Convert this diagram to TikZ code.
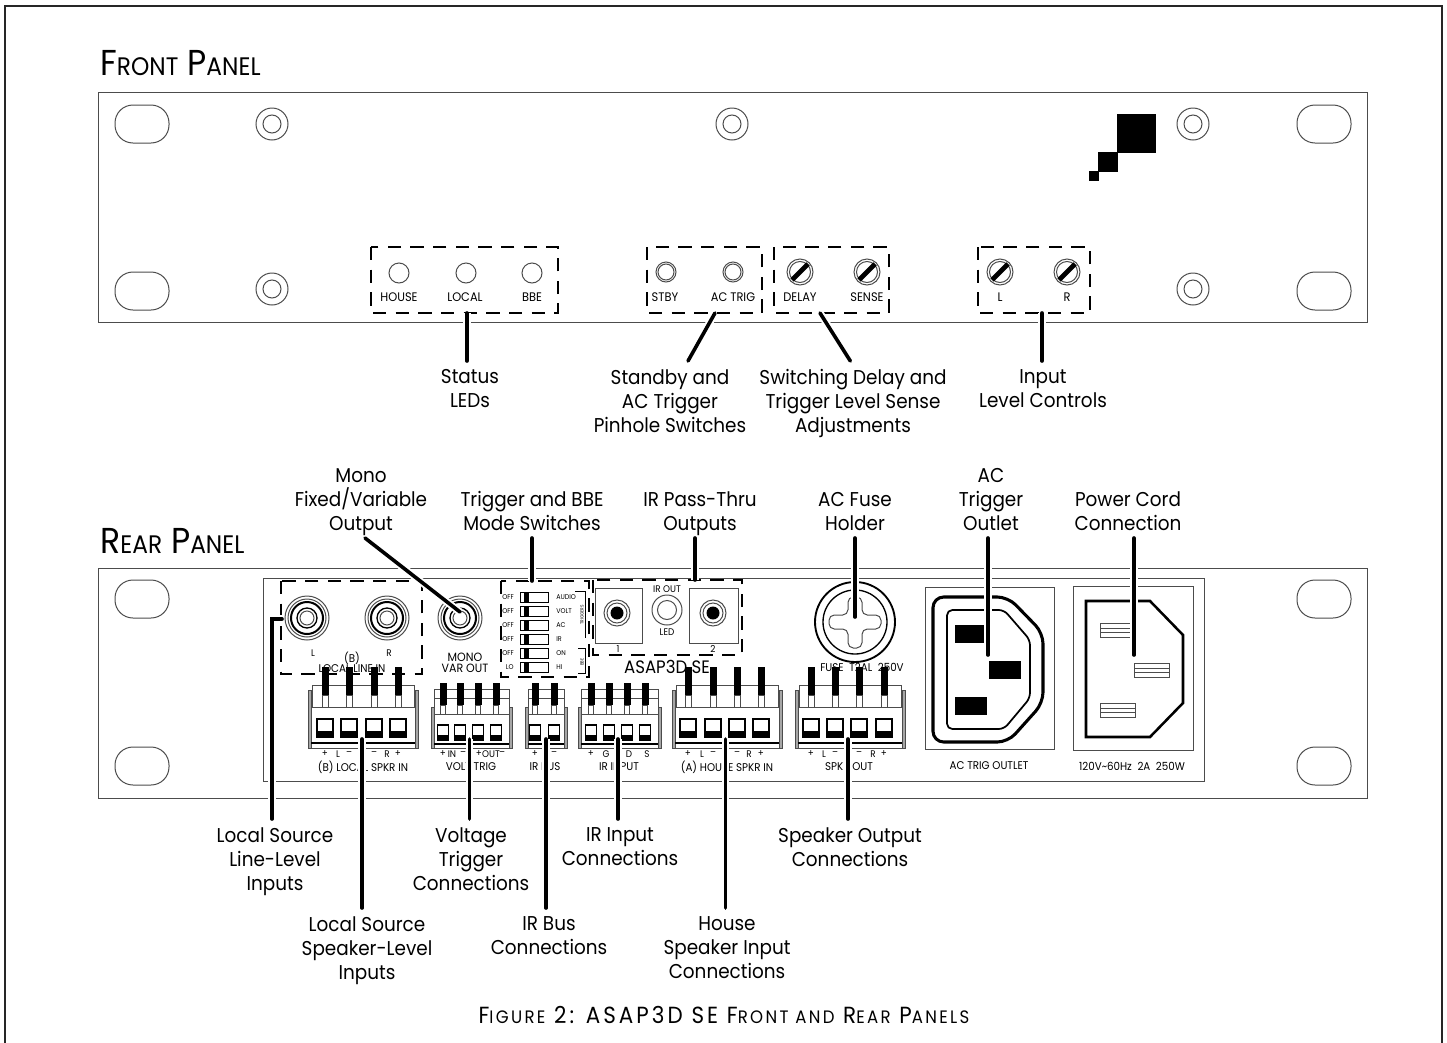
\documentclass[tikz,border=0pt]{standalone}
\usepackage{fontspec}
\setmainfont{Poppins}[FakeStretch=0.92]
\newfontfamily\captionfont{Poppins}[FakeStretch=0.92,LetterSpace=13]
\usetikzlibrary{positioning}
\usepackage[dvipsnames]{xcolor}

\definecolor{panelline}{gray}{0.3}
\newcommand{\sizecallout}{\fontsize{15}{18}\selectfont}
\newcommand{\sizepanel}{\fontsize{9.3}{10}\selectfont}
\newcommand{\sizerear}{\fontsize{8.4}{9}\selectfont}
\newcommand{\sizepin}{\fontsize{7.2}{8}\selectfont}
\newcommand{\sizedip}{\fontsize{5.2}{6}\selectfont}
\newcommand{\titlesmall}{\fontsize{19}{20}\selectfont}
\newcommand{\capsmall}{\fontsize{13.5}{15}\selectfont}

% mounting slot, centre x and y
\newcommand{\mountslot}[2]{\draw[thinline, rounded corners=13.5pt] (#1-27,#2-19) rectangle (#1+27,#2+19);}
% panel screw
\newcommand{\panelscrew}[2]{\draw[thinline] (#1,#2) circle[radius=16*0.75pt] (#1,#2) circle[radius=9*0.75pt];}
% trim pot with its slot
\newcommand{\trimpot}[2]{
  \draw[thinline] (#1,#2) circle[radius=13*0.75pt] (#1,#2) circle[radius=10.5*0.75pt];
  \draw[line width=3.6pt, black] (#1-8,#2+8) -- (#1+8,#2-8);
}
% RCA jack
\newcommand{\rcajack}[2]{
  \draw[thinline] (#1,#2) circle[radius=22*0.75pt] (#1,#2) circle[radius=19*0.75pt] (#1,#2) circle[radius=7*0.75pt];
  \draw[line width=1.5pt] (#1,#2) circle[radius=16*0.75pt];
  \draw[line width=1pt] (#1,#2) circle[radius=10*0.75pt];
}
% large terminal block: left, right, pin positions
\newcommand{\termlarge}[3]{
  \draw[panelline, fill=black!35, line width=0.4pt] (#1,690) rectangle (#1+3,748) (#2-3,690) rectangle (#2,748);
  \draw[thinline, fill=white] (#1+4,685) rectangle (#2-4,707);
  \draw[thinline, fill=white] (#1+3,707) rectangle (#2-3,748);
  \draw[line width=1pt] (#1+3,743) -- (#2-3,743);
  \foreach \p in {#3} {
    \draw[thinline, fill=white] (\p-3,695) rectangle (\p+3,707);
    \fill[black] (\p-3.5,667) rectangle (\p+3.5,695);
    \fill[black] (\p-8,731) rectangle (\p+8,737);
    \draw[line width=0.9pt] (\p-8,719) rectangle (\p+8,737);
  }
}
% small terminal block: left, right, pin positions
\newcommand{\termsmall}[3]{
  \draw[panelline, fill=black!35, line width=0.4pt] (#1,707) rectangle (#1+3,748) (#2-3,707) rectangle (#2,748);
  \draw[thinline, fill=white] (#1+3,689) rectangle (#2-3,714);
  \draw[thinline] (#1+3,698) -- (#2-3,698);
  \draw[thinline, fill=white] (#1+3,714) rectangle (#2-3,748);
  \draw[line width=1pt] (#1+3,744) -- (#2-3,744);
  \foreach \p in {#3} {
    \draw[thinline, fill=white] (\p-2.5,705) rectangle (\p+2.5,714);
    \fill[black] (\p-3.5,683) rectangle (\p+3.5,705);
    \fill[black] (\p-5.5,735) rectangle (\p+5.5,740);
    \draw[line width=0.8pt] (\p-5.5,725) rectangle (\p+5.5,740);
  }
}

\tikzset{
  thinline/.style={draw=panelline, line width=0.75pt},
  dashbox/.style={draw=black, line width=1.5pt, dash pattern=on 10pt off 7pt},
  leader/.style={draw=black, line width=2.7pt, line cap=round,
    preaction={draw=white, line width=5.6pt, line cap=butt}},
  callout/.style={font=\sizecallout, align=center, inner xsep=0pt, inner ysep=6pt,
    anchor=north, execute at begin node=\strut},
  calloutup/.style={font=\sizecallout, align=center, inner xsep=0pt, inner ysep=0pt,
    anchor=south, execute at end node=\strut},
  frontlabel/.style={font=\sizepanel, inner sep=0pt},
  rearlabel/.style={font=\sizerear, inner sep=0pt, align=center},
  pinlabel/.style={font=\sizepin, inner sep=0pt},
  diplabel/.style={font=\sizedip, inner sep=0pt},
}

\begin{document}
\begin{tikzpicture}[x=0.75pt, y=-0.75pt]
  \useasboundingbox (0,0) rectangle (1447,1043);

  % Outer frame, open at the bottom
  \draw[line width=1pt, black!85] (5,1043) -- (5,6) -- (1442,6) -- (1442,1043);

  % Titles
  \node[anchor=base west, inner sep=0pt, font=\fontsize{27}{30}\selectfont] (titlefront) at (100,75) {F{\titlesmall RONT} P{\titlesmall ANEL}};
  \node[anchor=base west, inner sep=0pt, font=\fontsize{27}{30}\selectfont] (titlerear) at (100,553) {R{\titlesmall EAR} P{\titlesmall ANEL}};

  % Front panel body and fixings
  \draw[thinline] (98,92) rectangle (1367,322);
  \mountslot{142}{124}
  \mountslot{142}{291}
  \mountslot{1324}{124}
  \mountslot{1324}{291}
  \panelscrew{272}{124}
  \panelscrew{732}{124}
  \panelscrew{1193}{124}
  \panelscrew{272}{289}
  \panelscrew{1193}{289}

  % Black marks near the top right screw
  \fill[black] (1117,114) rectangle (1156,153);
  \fill[black] (1098,152) rectangle (1118,172);
  \fill[black] (1089,171) rectangle (1099,181);

  % Status LEDs
  \draw[thinline] (399,273) circle[radius=10*0.75pt];
  \draw[thinline] (466,273) circle[radius=10*0.75pt];
  \draw[thinline] (532,273) circle[radius=10*0.75pt];
  \node[frontlabel] (txhouse) at (399,297) {HOUSE};
  \node[frontlabel] (txlocal) at (465,297) {LOCAL};
  \node[frontlabel] (txbbe) at (532,297) {BBE};

  % Pinhole switches
  \draw[thinline] (666,272) circle[radius=10*0.75pt] (666,272) circle[radius=8*0.75pt];
  \draw[thinline] (733,272) circle[radius=10*0.75pt] (733,272) circle[radius=8*0.75pt];
  \node[frontlabel] (txstby) at (665,297) {STBY};
  \node[frontlabel] (txactrig) at (733,297) {AC TRIG};

  % Trim pots
  \trimpot{800}{272}
  \trimpot{867}{272}
  \trimpot{1000}{272}
  \trimpot{1067}{272}
  \node[frontlabel] (txdelay) at (800,297) {DELAY};
  \node[frontlabel] (txsense) at (867,297) {SENSE};
  \node[frontlabel] (txl) at (1000,297) {L};
  \node[frontlabel] (txr) at (1067,297) {R};

  % Dashed groups on the front panel
  \draw[dashbox] (371,247) rectangle (558,313);
  \draw[dashbox] (647,247) rectangle (762,313);
  \draw[dashbox] (774,247) rectangle (889,313);
  \draw[dashbox] (978,247) rectangle (1090,313);

  % Rear panel body and fixings
  \draw[thinline] (98,568) rectangle (1367,798);
  \draw[thinline] (263,578) rectangle (1204,781);
  \mountslot{142}{599}
  \mountslot{142}{766}
  \mountslot{1324}{599}
  \mountslot{1324}{766}

  % Line inputs and mono output
  \rcajack{307}{618}
  \rcajack{387}{618}
  \rcajack{460}{618}
  \node[pinlabel] (txlinel) at (313,653) {L};
  \node[pinlabel] (txliner) at (389,653) {R};
  \node[rearlabel] (txlineb) at (352,658) {(B)};
  \node[rearlabel] (txlinein) at (352,669) {LOCAL LINE IN};
  \node[rearlabel, font=\fontsize{9}{10}\selectfont] (txmono) at (465,657) {MONO};
  \node[rearlabel, font=\fontsize{9}{10}\selectfont] (txvar) at (465,668) {VAR OUT};
  \draw[dashbox] (281,581) rectangle (422,674);

  % Mode switches
  \foreach \y/\a/\b in {597/OFF/AUDIO, 611/OFF/VOLT, 625/OFF/AC, 639/OFF/IR, 653/OFF/ON, 667/LO/HI} {
    \draw[line width=0.7pt] (520,\y-5) rectangle (548,\y+5);
    \fill[black] (524,\y-5) rectangle (529,\y+5);
    \node[diplabel, anchor=east] (dipl\y) at (514,\y) {\a};
    \node[diplabel, anchor=west] (dipr\y) at (556,\y) {\b};
  }
  \node[rotate=90, inner sep=0pt, font=\fontsize{3.4}{4}\selectfont] (diptrig) at (582,615) {TRIGGERS};
  \node[rotate=90, inner sep=0pt, font=\fontsize{3.4}{4}\selectfont] (dipbbe) at (582,662) {BBE};
  \draw[line width=0.3pt] (575,591) -- (585,591) -- (585,638) (578,648) -- (585,648) -- (585,673) -- (578,673);
  \draw[dashbox] (501,581) rectangle (589,677);

  % IR outputs
  \draw[thinline] (595,588) rectangle (642,643);
  \draw[thinline] (689,588) rectangle (738,643);
  \foreach \x in {617,713} {
    \draw[thinline] (\x,613) circle[radius=13*0.75pt] (\x,613) circle[radius=10*0.75pt];
    \fill[black] (\x,613) circle[radius=6.5*0.75pt];
  }
  \draw[thinline] (667,610) circle[radius=15*0.75pt] (667,610) circle[radius=9.5*0.75pt];
  \node[pinlabel] (txirout) at (667,589) {IR OUT};
  \node[pinlabel] (txled) at (667,632) {LED};
  \node[pinlabel] (txone) at (618,649) {1};
  \node[pinlabel] (txtwo) at (713,649) {2};
  \draw[dashbox] (593,580) rectangle (742,655);
  \node[inner sep=0pt, font=\fontsize{13.5}{16}\selectfont] (txmodel) at (667,667) {ASAP3D SE};

  % Fuse holder
  \draw[line width=1.4pt] (855,622) circle[radius=40*0.75pt];
  \draw[line width=1pt] (855,622) circle[radius=32*0.75pt];
  \draw[thinline, rounded corners=4pt] (829,615) -- (848,615) -- (848,597) -- (862,597) -- (862,615) -- (881,615)
    -- (881,629) -- (862,629) -- (862,648) -- (848,648) -- (848,629) -- (829,629) -- cycle;
  \node[rearlabel] (txfuse) at (862,667) {FUSE\enspace T2AL\enspace 250V};

  % Terminal blocks
  \termlarge{308}{418}{325,349,374,398}
  \termsmall{431}{512}{443,460,478,496}
  \termsmall{525}{567}{535,554}
  \termsmall{578}{661}{591,609,627,645}
  \termlarge{672}{782}{688,713,737,761}
  \termlarge{795}{905}{811,835,859,884}

  % Terminal markings
  \foreach \x/\s in {325/+, 338/L, 349/--, 374/--, 387/R, 398/+, 443/+, 452/IN, 463/--, 479/+, 491/OUT, 502/--,
      535/+, 554/--, 591/+, 606/G, 629/D, 647/S, 688/+, 702/L, 713/--, 737/--, 749/R, 761/+,
      811/+, 824/L, 835/--, 859/--, 873/R, 884/+} {
    \node[pinlabel] (pin\x) at (\x,754) {\s};
  }
  \node[rearlabel] (txlocalspkr) at (363,767) {(B) LOCAL SPKR IN};
  \node[rearlabel] (txvolt) at (471,767) {VOLT TRIG};
  \node[rearlabel] (txirbus) at (545,767) {IR BUS};
  \node[rearlabel] (txirinput) at (619,767) {IR INPUT};
  \node[rearlabel] (txhousein) at (727,767) {(A) HOUSE SPKR IN};
  \node[rearlabel] (txspkrout) at (849,767) {SPKR OUT};

  % AC trigger outlet
  \draw[thinline] (925,587) rectangle (1054,749);
  \draw[line width=2.3pt, rounded corners=8pt] (933,597) -- (1008,597) -- (1043,633) -- (1043,703) -- (1008,742) -- (933,742) -- cycle;
  \draw[line width=1.3pt, rounded corners=4pt] (947,610) -- (1004,610) -- (1030,640) -- (1030,698) -- (1004,729) -- (947,729) -- cycle;
  \fill[black] (955,625) rectangle (985,643);
  \fill[black] (989,661) rectangle (1021,679);
  \fill[black] (955,697) rectangle (987,715);
  \node[rearlabel] (txactrigout) at (989,766) {AC TRIG OUTLET};

  % Power inlet
  \draw[thinline] (1073,586) rectangle (1193,750);
  \draw[line width=1.9pt] (1086,601) -- (1150,601) -- (1183,635) -- (1183,703) -- (1150,737) -- (1086,737) -- cycle;
  \foreach \x/\y in {1100/623, 1134/663, 1100/703} {
    \draw[thinline] (\x,\y) rectangle (\x+35,\y+14);
    \draw[thinline] (\x,\y+5) -- (\x+35,\y+5) (\x,\y+9) -- (\x+35,\y+9);
  }
  \node[rearlabel] (txmains) at (1132,766) {120V\textasciitilde 60Hz\enspace 2A\enspace 250W};

  % Callouts for the front panel
  \node[callout] (lblstatus) at (470,361) {Status\\LEDs};
  \node[callout] (lblstby) at (670,361) {Standby and\\AC Trigger\\Pinhole Switches};
  \node[callout] (lbldelay) at (853,361) {Switching Delay and\\Trigger Level Sense\\Adjustments};
  \node[callout] (lbllevel) at (1043,361) {Input\\Level Controls};

  % Callouts above the rear panel
  \node[calloutup] (lblmono) at (361,538) {Mono\\Fixed/Variable\\Output};
  \node[calloutup] (lbltrig) at (532,538) {Trigger and BBE\\Mode Switches};
  \node[calloutup] (lblpass) at (700,538) {IR Pass-Thru\\Outputs};
  \node[calloutup] (lblfuse) at (855,538) {AC Fuse\\Holder};
  \node[calloutup] (lblacout) at (991,538) {AC\\Trigger\\Outlet};
  \node[calloutup] (lblcord) at (1128,538) {Power Cord\\Connection};

  % Callouts below the rear panel
  \node[callout] (lbllocalline) at (275,819) {Local Source\\Line-Level\\Inputs};
  \node[callout] (lblvoltage) at (471,819) {Voltage\\Trigger\\Connections};
  \node[callout] (lblirin) at (620,819) {IR Input\\Connections};
  \node[callout] (lblspeaker) at (850,819) {Speaker Output\\Connections};
  \node[callout] (lbllocalspk) at (367,908) {Local Source\\Speaker-Level\\Inputs};
  \node[callout] (lblirbus) at (549,908) {IR Bus\\Connections};
  \node[callout] (lblhouse) at (727,908) {House\\Speaker Input\\Connections};

  % Leader ends
  \coordinate (tipstatus) at (467,313);
  \coordinate (tipstby) at (715,313);
  \coordinate (tipdelay) at (820,313);
  \coordinate (tiplevel) at (1042,313);
  \coordinate (tipmono) at (460,612);
  \coordinate (tiptrig) at (532,581);
  \coordinate (tippass) at (695,580);
  \coordinate (tipfuse) at (855,617);
  \coordinate (tipacout) at (988,655);
  \coordinate (tipcord) at (1134,655);
  \coordinate (tiplocalline) at (282,619);
  \coordinate (tiplocalspk) at (362,739);
  \coordinate (tipvoltage) at (469.5,739);
  \coordinate (tipirbus) at (546,739);
  \coordinate (tipirin) at (618,739);
  \coordinate (tiphouse) at (725.5,739);
  \coordinate (tipspeaker) at (848,739);

  % Leaders
  \draw[leader] (lblstatus.north -| tipstatus) -- (tipstatus);
  \draw[leader] ([xshift=13.5pt]lblstby.north) -- (tipstby);
  \draw[leader] ([xshift=-2pt]lbldelay.north) -- (tipdelay);
  \draw[leader] (lbllevel.north -| tiplevel) -- (tiplevel);
  \draw[leader] ([xshift=3pt]lblmono.south) -- (tipmono);
  \draw[leader] (lbltrig.south -| tiptrig) -- (tiptrig);
  \draw[leader] (lblpass.south -| tippass) -- (tippass);
  \draw[leader] (lblfuse.south -| tipfuse) -- (tipfuse);
  \draw[leader] (lblacout.south -| tipacout) -- (tipacout);
  \draw[leader] (lblcord.south -| tipcord) -- (tipcord);
  \draw[leader] ([xshift=-2.25pt]lbllocalline.north) |- (tiplocalline);
  \draw[leader] (lbllocalspk.north -| tiplocalspk) -- (tiplocalspk);
  \draw[leader] (lblvoltage.north -| tipvoltage) -- (tipvoltage);
  \draw[leader] (lblirbus.north -| tipirbus) -- (tipirbus);
  \draw[leader] (lblirin.north -| tipirin) -- (tipirin);
  \draw[leader] (lblhouse.north -| tiphouse) -- (tiphouse);
  \draw[leader] (lblspeaker.north -| tipspeaker) -- (tipspeaker);

  % Caption
  \node[inner sep=0pt, anchor=base, font=\captionfont\fontsize{17.5}{20}\selectfont] (caption) at (724,1023)
    {F{\capsmall IGURE} 2: ASAP3D SE F{\capsmall RONT AND} R{\capsmall EAR} P{\capsmall ANELS}};
\end{tikzpicture}
\end{document}
